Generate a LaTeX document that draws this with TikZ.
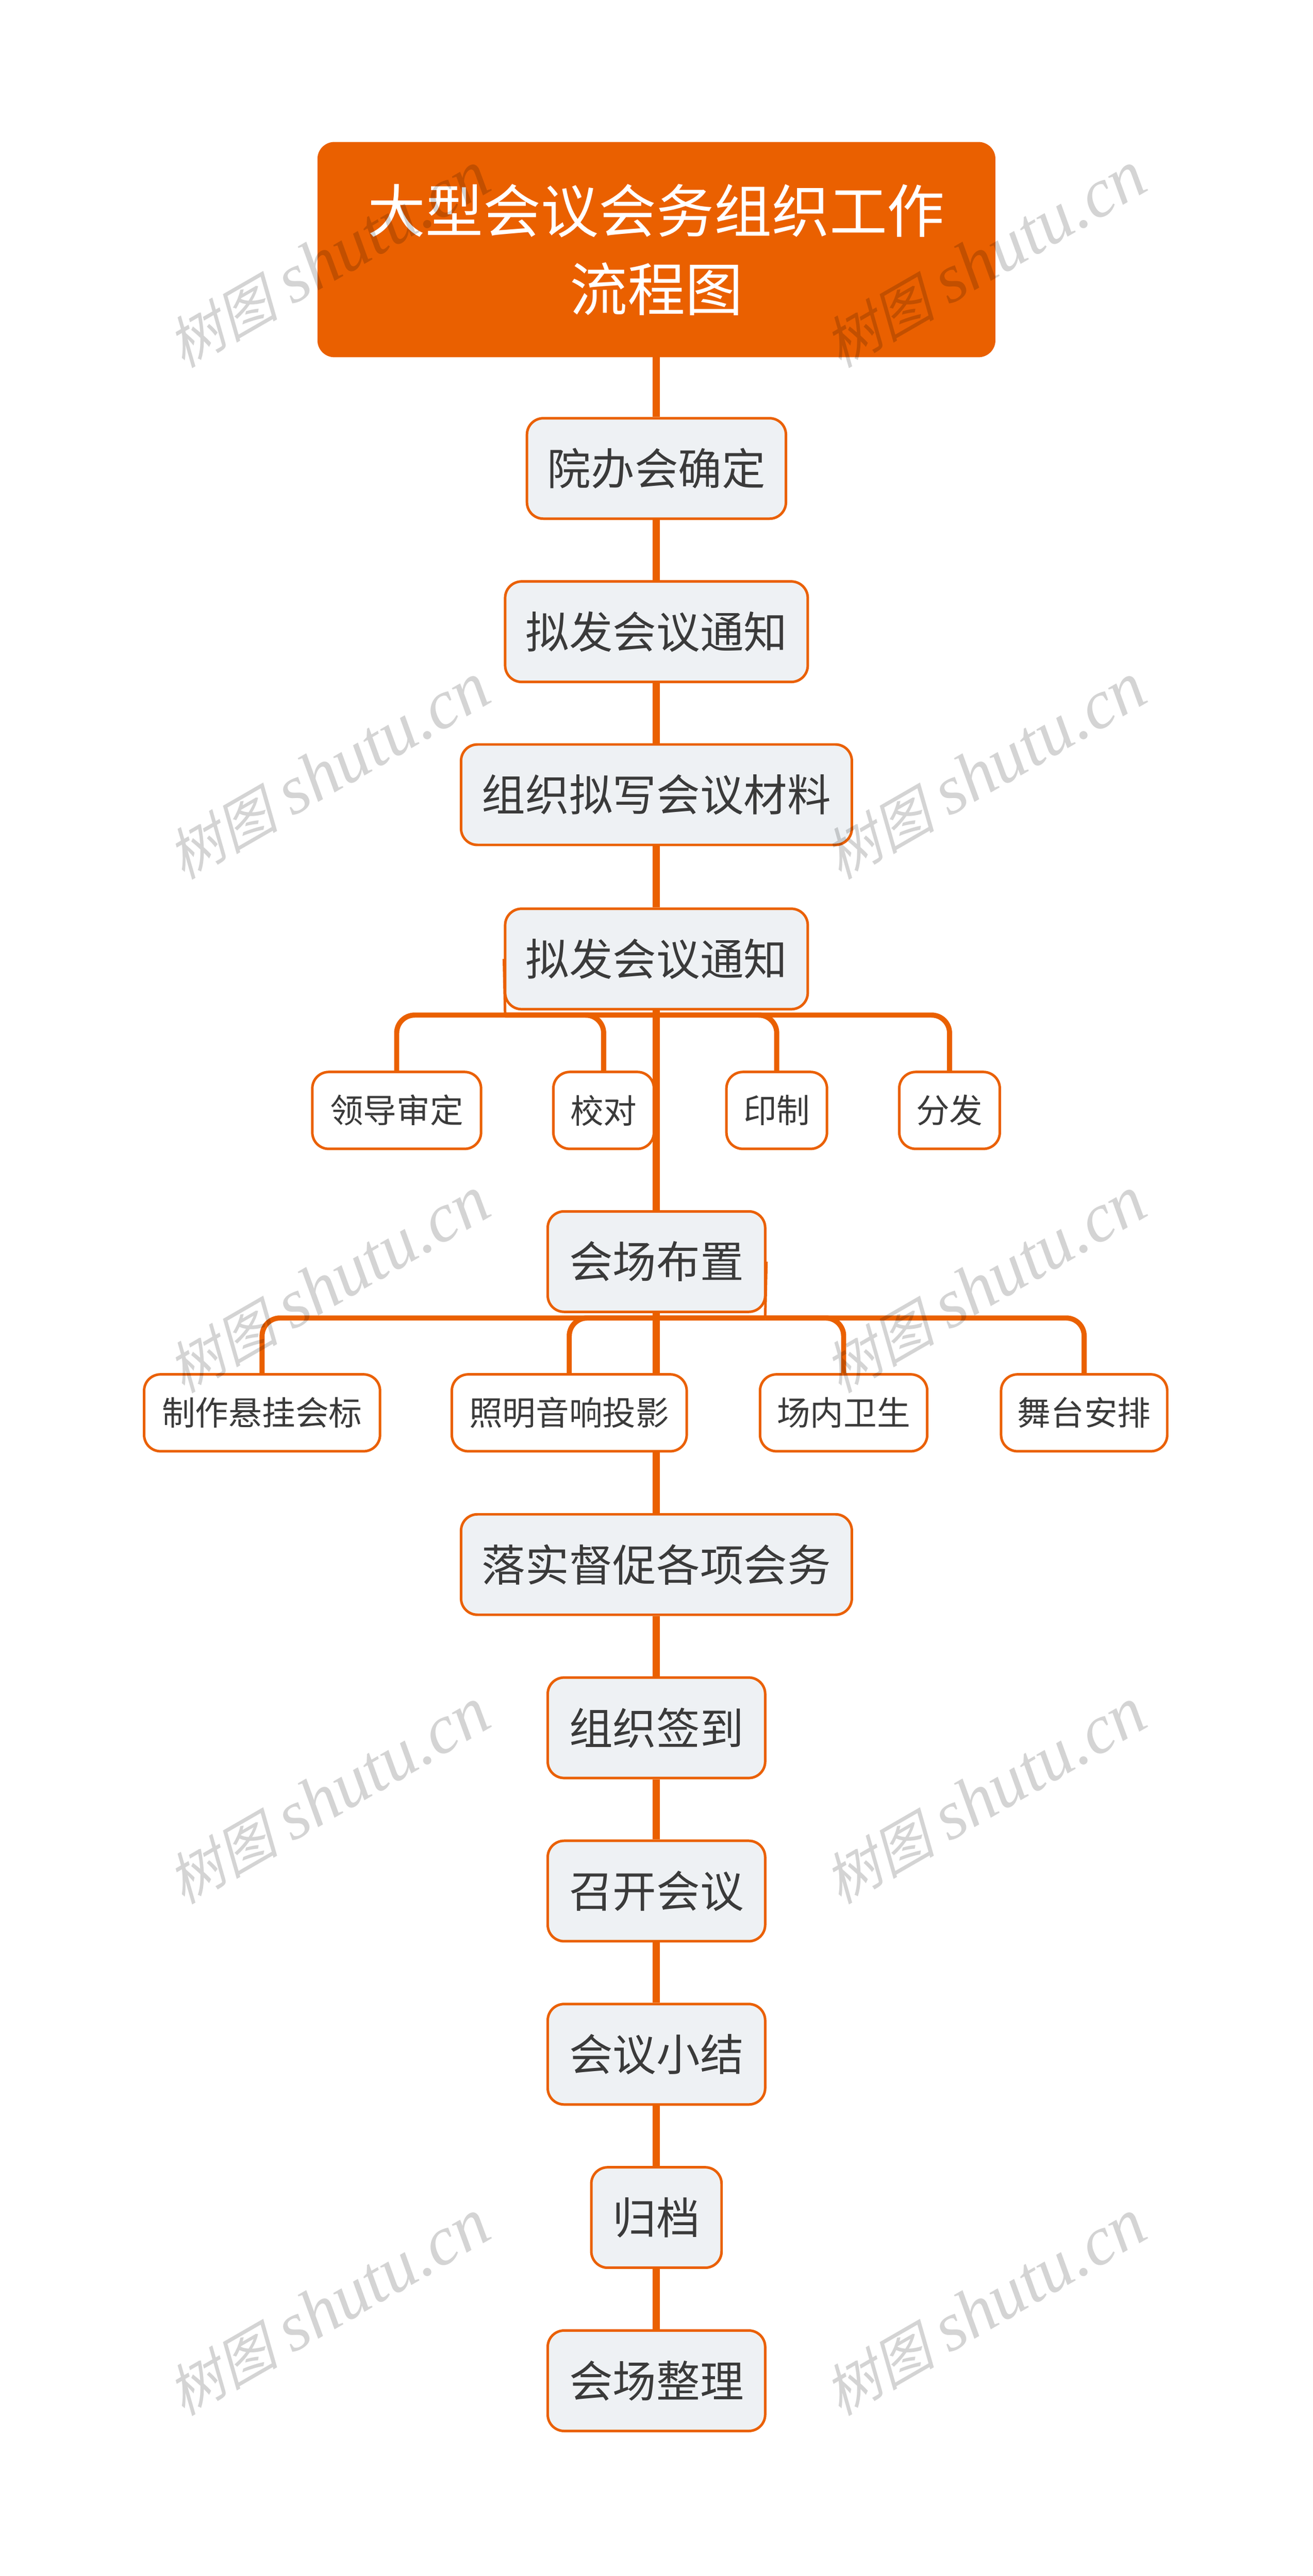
\documentclass[tikz,border=0pt]{standalone}
\usepackage{fontspec}
\setmainfont{Noto Sans CJK SC}
\newfontfamily\markcjk[FakeSlant=0.25]{Noto Sans CJK SC}
\newfontfamily\marklatin[ItalicFont=Liberation Serif Italic]{Liberation Serif}
\usetikzlibrary{backgrounds}

\definecolor{planorange}{HTML}{EA6000}
\definecolor{planfill}{HTML}{EEF1F4}
\definecolor{plantext}{HTML}{3A3A3A}

\tikzset{
  rootbox/.style={draw=planorange, fill=planorange, line width=0.02cm, rounded corners=0.32cm,
    minimum width=13.2cm, minimum height=4.18cm, inner sep=0, align=center, text=white,
    font=\fontsize{32}{43.5}\selectfont},
  stepbox/.style={draw=planorange, fill=planfill, line width=0.05cm, rounded corners=0.32cm,
    minimum height=1.96cm, inner sep=0, text=plantext, font=\fontsize{24.2}{30}\selectfont},
  leafbox/.style={draw=planorange, fill=white, line width=0.05cm, rounded corners=0.32cm,
    minimum height=1.5cm, inner sep=0, text=plantext, font=\fontsize{18.5}{24}\selectfont},
  trunkline/.style={draw=planorange, line width=0.14cm},
  branchline/.style={draw=planorange, line width=0.1cm, rounded corners=0.35cm},
  stubline/.style={draw=planorange, line width=0.05cm},
  markword/.style={text=black, text opacity=0.17, rotate=30, inner sep=0}
}

\newcommand{\markline}{{\markcjk\fontsize{31}{34}\selectfont 树图}\hspace{8pt}{\marklatin\itshape\fontsize{38.5}{34}\selectfont shutu.cn}}

\begin{document}
\begin{tikzpicture}
      \useasboundingbox (0, 0) rectangle (25.6, -50.26);

      \node[rootbox] (root) at (12.8, -4.87) {大型会议会务组织工作\\流程图};

      \node[stepbox, minimum width=5.05cm] (decide) at (12.8, -9.14) {院办会确定};
      \node[stepbox, minimum width=5.9cm] (notice) at (12.8, -12.325) {拟发会议通知};
      \node[stepbox, minimum width=7.62cm] (material) at (12.8, -15.505) {组织拟写会议材料};
      \node[stepbox, minimum width=5.9cm] (draft) at (12.8, -18.71) {拟发会议通知};

      \node[leafbox, minimum width=3.29cm] (approve) at (7.735, -21.665) {领导审定};
      \node[leafbox, minimum width=1.96cm] (proof) at (11.77, -21.665) {校对};
      \node[leafbox, minimum width=1.96cm] (print) at (15.145, -21.665) {印制};
      \node[leafbox, minimum width=1.96cm] (deliver) at (18.515, -21.665) {分发};

      \node[stepbox, minimum width=4.24cm] (venue) at (12.8, -24.615) {会场布置};

      \node[leafbox, minimum width=4.6cm] (banner) at (5.11, -27.565) {制作悬挂会标};
      \node[leafbox, minimum width=4.58cm] (light) at (11.10, -27.565) {照明音响投影};
      \node[leafbox, minimum width=3.26cm] (clean) at (16.45, -27.565) {场内卫生};
      \node[leafbox, minimum width=3.24cm] (stage) at (21.14, -27.565) {舞台安排};

      \node[stepbox, minimum width=7.62cm] (urge) at (12.8, -30.525) {落实督促各项会务};
      \node[stepbox, minimum width=4.24cm] (sign) at (12.8, -33.71) {组织签到};
      \node[stepbox, minimum width=4.24cm] (open) at (12.8, -36.895) {召开会议};
      \node[stepbox, minimum width=4.24cm] (summary) at (12.8, -40.08) {会议小结};
      \node[stepbox, minimum width=2.54cm] (archive) at (12.8, -43.265) {归档};
      \node[stepbox, minimum width=4.24cm] (tidy) at (12.8, -46.45) {会场整理};

      \coordinate (draftbar) at (9.85, -19.805);
      \coordinate (venuebar) at (14.92, -25.715);

      \begin{pgfonlayer}{background}
        \draw[trunkline] (root) -- (decide) -- (notice) -- (material) -- (draft) -- (venue)
          -- (urge) -- (sign) -- (open) -- (summary) -- (archive) -- (tidy);

        \draw[stubline] (draft.west) -- (draftbar);
        \draw[branchline] (draftbar) -| (approve.north);
        \draw[branchline] (draftbar) -| (proof.north);
        \draw[branchline] (draftbar) -| (print.north);
        \draw[branchline] (draftbar) -| (deliver.north);

        \draw[stubline] (venue.east) -- (venuebar);
        \draw[branchline] (venuebar) -| (banner.north);
        \draw[branchline] (venuebar) -| (light.north);
        \draw[branchline] (venuebar) -| (clean.north);
        \draw[branchline] (venuebar) -| (stage.north);
      \end{pgfonlayer}

      % watermark
      \node[markword] (markA) at (6.4, -5.07) {\markline};
      \node[markword] (markB) at (19.2, -5.07) {\markline};
      \node[markword] (markC) at (6.4, -15.05) {\markline};
      \node[markword] (markD) at (19.2, -15.05) {\markline};
      \node[markword] (markE) at (6.4, -25.07) {\markline};
      \node[markword] (markF) at (19.2, -25.07) {\markline};
      \node[markword] (markG) at (6.4, -35.05) {\markline};
      \node[markword] (markH) at (19.2, -35.05) {\markline};
      \node[markword] (markI) at (6.4, -45.03) {\markline};
      \node[markword] (markJ) at (19.2, -45.03) {\markline};
    \end{tikzpicture}
\end{document}
